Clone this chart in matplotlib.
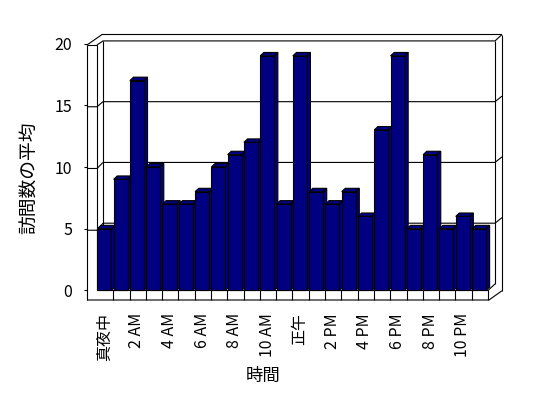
import matplotlib
matplotlib.use('Agg')
import matplotlib.pyplot as plt
from matplotlib.patches import Polygon

plt.rcParams['font.family'] = ['Noto Sans CJK JP', 'DejaVu Sans']

# average visits per hour
hours = list(range(24))
visits = [5, 9, 17, 10, 7, 7, 8, 10, 11, 12, 19, 7,
          19, 8, 7, 8, 6, 13, 19, 5, 11, 5, 6, 5]
tick_labels = ['真夜中', '2 AM', '4 AM', '6 AM', '8 AM', '10 AM',
               '正午', '2 PM', '4 PM', '6 PM', '8 PM', '10 PM']
y_ticks = [0, 5, 10, 15, 20]

W, H = 548, 398
fig = plt.figure(figsize=(W / 100, H / 100), dpi=100)
ax = fig.add_axes([87 / W, (H - 300) / H, (502 - 87) / W, (300 - 34.5) / H])
ax.set_xlim(-0.614, 24.86)
ax.set_ylim(-0.77, 20.73)
for s in ax.spines.values():
    s.set_visible(False)

# pixel -> data helpers
px = 1 / 16.29
py = 1 / 12.35

navy = '#000080'
lw = 0.8

xl0, xl1 = -0.614, 0.0       # left wall face
xb0, xb1 = 0.37, 24.43       # back wall
xr, xtop0 = 24.86, 0.31
ytop = 20.73
yfloor = -0.77


def back(v):
    return 0.53 + 0.984 * v


def front(v):
    return v - 0.12


def line(xs, ys):
    ax.plot(xs, ys, color='black', lw=lw, clip_on=False, zorder=1,
            solid_capstyle='butt')


# walls
line([xl0, xl0], [yfloor, front(20)])
line([xl1, xl1], [0, front(20)])
line([xl0, xl1], [front(20), front(20)])
line([xl0, xtop0, xr], [front(20), ytop, ytop])
line([xl1, xb0, xb1, xr], [front(20), back(20), back(20), ytop])
line([xb0, xb0], [back(0), back(20)])
line([xb1, xb1], [back(0), back(20)])
line([xr, xr], [-0.02, ytop])
for v in y_ticks[1:-1]:
    line([xl0, xl1, xb0, xb1, xr], [front(v), front(v), back(v), back(v), back(v) + 0.45])

# floor
line([xl0, 24.06, xr], [yfloor, yfloor, -0.02])
line([xl1, 24.0, xb1], [0, 0, back(0)])
for k in range(1, 25):
    line([k, k], [0, yfloor])

# bars: sides and tops behind, front faces on top
bw = 0.86
dx, dy = 3.6 * px, 3.4 * py
x_pos = [h + 0.02 for h in hours]
for x0, v in zip(x_pos, visits):
    x1 = x0 + bw
    side = Polygon([(x1, 0), (x1 + dx, dy), (x1 + dx, v + dy), (x1, v)],
                   facecolor=navy, edgecolor='black', lw=lw, zorder=2)
    top = Polygon([(x0, v), (x1, v), (x1 + dx, v + dy), (x0 + dx, v + dy)],
                  facecolor=navy, edgecolor='black', lw=lw, zorder=2)
    ax.add_patch(side)
    ax.add_patch(top)
ax.bar(x_pos, visits, width=bw, align='edge', color=navy,
       edgecolor='black', lw=lw, zorder=3)

# axes ticks and labels
ax.set_yticks(y_ticks)
ax.set_yticklabels([str(t) for t in y_ticks])
ax.tick_params(axis='y', direction='out', length=2.3, width=lw, pad=8.5,
               labelsize=11.5)
ax.set_xticks([h + 0.45 for h in hours[::2]])
ax.set_xticklabels(tick_labels, rotation=90, va='top', ha='center')
ax.tick_params(axis='x', length=0, pad=9.4, labelsize=11.5)

ax.set_ylabel('訪問数の平均', fontsize=13.5, va='center', ha='center')
ax.yaxis.set_label_coords((30 - 87) / 415, (300 - 178) / 265.5)
ax.set_xlabel('時間', fontsize=12.5, va='center', ha='center')
ax.xaxis.set_label_coords((263 - 87) / 415, (300 - 376) / 265.5)

fig.savefig('out.png', dpi=100)
